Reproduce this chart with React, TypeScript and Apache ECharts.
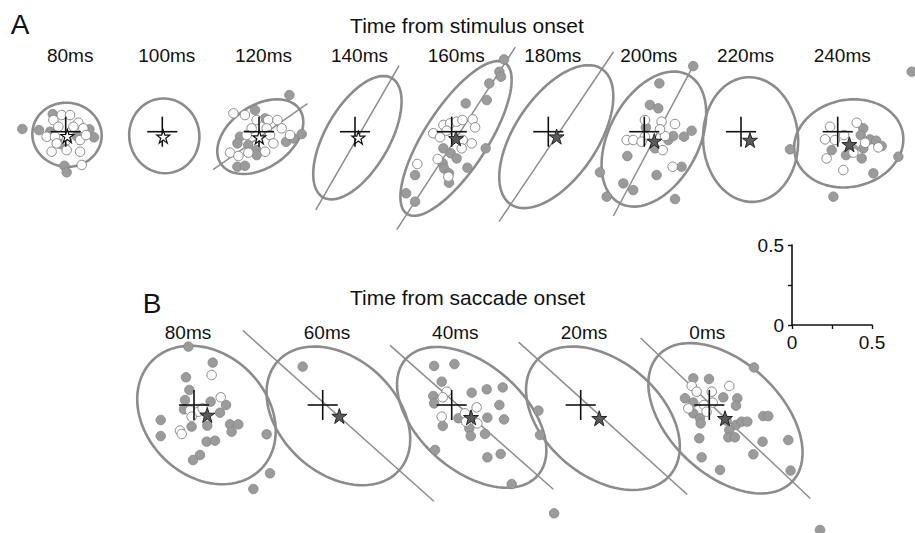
import React, { useEffect, useRef } from 'react';
import * as echarts from 'echarts';

// ---------- labels ----------
const stimLabels = ['80ms', '100ms', '120ms', '140ms', '160ms', '180ms', '200ms', '220ms', '240ms'];
const sacLabels = ['80ms', '60ms', '40ms', '20ms', '0ms'];
const scaleTicks = [0, 0.25, 0.5];

// ---------- panel A (time from stimulus onset) ----------
// ellipse: [cx, cy, semiMajor, semiMinor, angleDeg]
const stimEllipses = [
  [0.008, -0.019, 0.217, 0.2, -8],
  [0.0125, -0.026, 0.234, 0.219, 100],
  [0.008, -0.031, 0.299, 0.193, 35],
  [0.015, -0.0375, 0.43, 0.2, 60],
  [0.027, -0.042, 0.5625, 0.196, 57],
  [0.05, -0.031, 0.51, 0.258, 56],
  [0.06, -0.046, 0.454, 0.281, 62],
  [0.06, -0.049, 0.39, 0.297, 93],
  [0.069, -0.073, 0.344, 0.272, 12],
];
// regression line: [cx, cy, halfLength, angleDeg] or null
const stimLines = [
  null,
  null,
  [0.008, -0.031, 0.36, 35],
  [0.015, -0.0375, 0.52, 60],
  [0.027, -0.042, 0.68, 57],
  [0.05, -0.031, 0.64, 56],
  [0.06, -0.05, 0.54, 62],
  null,
  null,
];
const stimStars = [
  [0.01, -0.027], [0.006, -0.031], [0.002, -0.035], [0.021, -0.0375], [0.027, -0.042],
  [0.052, -0.031], [0.0625, -0.058], [0.056, -0.052], [0.073, -0.079],
];
const stimStarDark = [false, false, false, false, true, true, true, true, true];

const a80Filled = [[-0.271, 0.017], [-0.167, 0.01], [-0.081, 0.11], [-0.098, 0], [-0.031, -0.077], [0.069, -0.027], [0.148, 0.015], [0.177, -0.035], [-0.008, -0.213], [0.006, -0.254]];
const a80Open = [[-0.077, 0.073], [-0.025, 0.104], [0.027, 0.104], [0.079, 0.056], [-0.046, 0.031], [0.048, 0.031], [0.11, 0.021], [-0.119, -0.031], [-0.067, -0.031], [0.006, -0.052], [0.09, -0.052], [-0.088, -0.125], [0.006, -0.115], [0.09, -0.125], [0.1, -0.208], [-0.056, -0.073], [0.127, -0.021]];
const a120Filled = [[0.19, 0.229], [-0.025, 0.135], [0.038, 0.083], [-0.119, -0.031], [-0.135, -0.073], [-0.067, -0.083], [-0.015, -0.115], [-0.015, -0.146], [-0.135, -0.219], [-0.088, -0.213], [0.169, -0.063], [0.215, -0.042], [0.267, -0.015]];
const a120Open = [[-0.16, 0.115], [-0.088, 0.104], [-0.015, 0.073], [0.058, 0.073], [0.115, 0.073], [-0.046, 0.021], [0.048, 0.021], [-0.077, -0.021], [0.069, -0.021], [0.194, -0.021], [-0.181, -0.131], [-0.129, -0.152], [-0.067, -0.131], [0.038, -0.125], [0.09, -0.073], [0.142, 0.021]];
const a160Filled = [[0.327, 0.452], [0.298, 0.375], [0.308, 0.344], [0.235, 0.302], [0.219, 0.198], [0.0875, 0.177], [-0.052, -0.104], [-0.006, -0.135], [0.031, -0.167], [-0.056, -0.198], [-0.048, -0.229], [-0.017, -0.26], [-0.017, -0.319], [0.098, -0.225], [0.2125, -0.104], [-0.229, -0.271], [-0.285, -0.385], [-0.229, -0.4375]];
const a160Open = [[-0.052, 0.042], [-0.01, 0.052], [0.031, 0.0625], [0.067, 0.073], [0.131, 0.077], [0.146, 0.027], [-0.031, 0.006], [-0.115, -0.01], [-0.073, -0.035], [0.069, -0.052], [0.0625, -0.104], [0.125, -0.073], [-0.0875, -0.171], [-0.215, -0.202], [-0.021, -0.281]];
const a200Filled = [[0.306, 0.41], [0.094, 0.302], [0.035, 0.167], [0.0875, 0.146], [0.15, -0.052], [0.181, -0.027], [0.248, -0.031], [0.296, 0.006], [0.067, -0.104], [-0.106, -0.152], [-0.277, -0.254], [-0.131, -0.323], [-0.069, -0.365], [0.077, -0.271], [0.233, -0.219], [-0.235, -0.406], [0.192, -0.421], [0.01, 0.027]];
const a200Open = [[0.004, 0.073], [0.108, 0.0625], [0.192, 0.048], [-0.11, -0.052], [-0.069, -0.052], [0.004, -0.031], [0.129, -0.027], [0.098, 0.015], [0.115, -0.115], [0.177, -0.219], [-0.017, -0.0625]];
const a240Filled = [[0.16, 0.021], [0.144, -0.021], [-0.0375, -0.115], [0.052, -0.146], [0.098, -0.11], [0.15, -0.167], [0.16, -0.104], [0.202, -0.048], [0.24, -0.056], [0.275, -0.09], [0.379, -0.156], [0.223, -0.26], [-0.027, -0.406], [-0.298, -0.11], [0.4625, 0.375]];
const a240Open = [[-0.048, 0.031], [0.119, 0.056], [-0.079, -0.048], [-0.017, -0.052], [0.04, -0.021], [0.098, -0.131], [0.171, -0.069], [0.254, -0.098], [-0.069, -0.167], [0.035, -0.24]];

const stimFilled = [a80Filled, [], a120Filled, [], a160Filled, [], a200Filled, [], a240Filled];
const stimOpen = [a80Open, [], a120Open, [], a160Open, [], a200Open, [], a240Open];

// ---------- panel B (time from saccade onset) ----------
const sacEllipses = [
  [0.078, -0.0625, 0.48, 0.38, -45],
  [0.098, -0.068, 0.51, 0.36, -42],
  [0.125, -0.077, 0.55, 0.33, -41.4],
  [0.139, -0.083, 0.55, 0.36, -40],
  [0.101, -0.083, 0.575, 0.35, -43.4],
];
const sacLines = [
  null,
  [0.098, -0.068, 0.8, -41.8],
  [0.125, -0.077, 0.68, -41.4],
  [0.139, -0.083, 0.71, -42.1],
  [0.101, -0.083, 0.73, -43.4],
];
const sacStars = [[0.083, -0.0625], [0.104, -0.069], [0.121, -0.077], [0.116, -0.083], [0.098, -0.083]];

const b80Filled = [[-0.035, 0.365], [0.117, 0.265], [-0.05, 0.173], [-0.029, 0.094], [-0.056, 0.031], [-0.0625, -0.027], [0.104, 0.021], [0.2, 0], [0.1625, -0.048], [0.083, -0.129], [-0.015, -0.135], [-0.208, -0.094], [-0.208, -0.194], [0.225, -0.121], [0.277, -0.121], [0.235, -0.167], [0.079, -0.229], [0.131, -0.223], [0.0375, -0.3125], [-0.006, -0.344], [0.454, -0.183], [0.475, -0.427], [0.371, -0.525]];
const b80Open = [[0.11, 0.1875], [0.167, 0.048], [-0.025, -0.035], [0.027, -0.042], [-0.015, -0.073], [-0.0875, -0.16], [-0.077, -0.181], [0.054, -0.021]];
const b60Filled = [[-0.125, 0.24]];
const b40Filled = [[-0.11, 0.244], [0.017, 0.256], [-0.0625, 0.146], [0.125, 0.077], [0.219, 0.098], [0.319, 0.11], [-0.115, 0.056], [-0.11, 0.01], [0.298, 0], [0.327, -0.09], [0.223, -0.079], [0.042, -0.083], [-0.056, -0.131], [0.11, -0.146], [0.119, -0.194], [0.208, -0.181], [-0.104, -0.281], [0.223, -0.327], [0.306, -0.306], [0.375, -0.494], [0.542, -0.035], [0.552, -0.1875], [0.64, -0.677]];
const b40Open = [[-0.031, 0.083], [-0.056, 0.048], [0.156, -0.015], [-0.0625, -0.073], [0.083, -0.052], [0.09, -0.104], [0.16, -0.115]];
const b0Filled = [[0.279, 0.235], [-0.1, 0.167], [-0.002, 0.1625], [0.0875, 0.048], [0.175, 0.042], [0.167, -0.004], [-0.152, 0.042], [-0.1, 0.015], [-0.1, -0.052], [-0.058, -0.083], [-0.054, -0.115], [0.108, -0.098], [0.167, -0.125], [0.202, -0.104], [0.2375, -0.104], [0.125, -0.156], [0.119, -0.202], [0.16, -0.202], [0.3375, -0.069], [0.369, -0.069], [-0.0625, -0.208], [0.333, -0.229], [0.494, -0.219], [0.275, -0.308], [-0.048, -0.327], [0.067, -0.406], [0.508, -0.41], [0.692, -0.781]];
const b0Open = [[-0.11, 0.119], [-0.079, 0.083], [0.015, 0.083], [0.125, 0.119], [-0.131, -0.021], [-0.033, 0], [0.021, 0.015], [-0.017, -0.042]];

const sacFilled = [b80Filled, b60Filled, b40Filled, [], b0Filled];
const sacOpen = [b80Open, [], b40Open, [], b0Open];

// ---------- layout (pixels) ----------
const STIM_X = [65.7, 162.3, 259, 355, 451.7, 548.3, 644.3, 741, 837.7];
const STIM_Y = 131.7;
const SAC_X = [194, 322.7, 451.7, 580.7, 709.3];
const SAC_Y = 405;
const SAC_TITLE_X = [188, 327, 455.3, 584, 707.3];
const HALF = 40; // px half-size of each panel grid (0.25 data units)
const CROSS_ARM = 0.094;

const FONT = '"Liberation Sans", Arial, Helvetica, sans-serif';
const GREY = '#8c8c8c';
const STAR = 'path://M50,2 L61.8,37.6 L99,37.6 L69,59.5 L80.4,95 L50,73 L19.6,95 L31,59.5 L1,37.6 L38.2,37.6 Z';

function ellipseRender(params: any, api: any) {
  const cx = api.value(0), cy = api.value(1), a = api.value(2), b = api.value(3);
  const ang = (api.value(4) * Math.PI) / 180;
  const pts: number[][] = [];
  for (let i = 0; i < 96; i++) {
    const t = (i / 96) * Math.PI * 2;
    const x = cx + a * Math.cos(t) * Math.cos(ang) - b * Math.sin(t) * Math.sin(ang);
    const y = cy + a * Math.cos(t) * Math.sin(ang) + b * Math.sin(t) * Math.cos(ang);
    pts.push(api.coord([x, y]));
  }
  return { type: 'polygon', shape: { points: pts }, style: { fill: 'none', stroke: GREY, lineWidth: 2.6 } };
}

function lineRender(params: any, api: any) {
  const cx = api.value(0), cy = api.value(1), h = api.value(2);
  const ang = (api.value(3) * Math.PI) / 180;
  const p1 = api.coord([cx - h * Math.cos(ang), cy - h * Math.sin(ang)]);
  const p2 = api.coord([cx + h * Math.cos(ang), cy + h * Math.sin(ang)]);
  return { type: 'line', shape: { x1: p1[0], y1: p1[1], x2: p2[0], y2: p2[1] }, style: { stroke: GREY, lineWidth: 1.5 } };
}

function crossRender(params: any, api: any) {
  const x = api.value(0), y = api.value(1);
  const l = api.coord([x - CROSS_ARM, y]);
  const r = api.coord([x + CROSS_ARM, y]);
  const t = api.coord([x, y + CROSS_ARM]);
  const b = api.coord([x, y - CROSS_ARM]);
  return {
    type: 'group',
    children: [
      { type: 'line', shape: { x1: l[0], y1: l[1], x2: r[0], y2: r[1] }, style: { stroke: '#111', lineWidth: 1.6 } },
      { type: 'line', shape: { x1: t[0], y1: t[1], x2: b[0], y2: b[1] }, style: { stroke: '#111', lineWidth: 1.6 } },
    ],
  };
}

function panelSeries(idx: number, ellipse: number[], line: number[] | null, filled: number[][], open: number[][], star: number[], dark: boolean) {
  const base = { xAxisIndex: idx, yAxisIndex: idx, silent: true };
  const out: any[] = [
    { ...base, type: 'custom', renderItem: ellipseRender, data: [ellipse], encode: { x: 0, y: 1 }, clip: false, z: 1 },
  ];
  if (line) out.push({ ...base, type: 'custom', renderItem: lineRender, data: [line], encode: { x: 0, y: 1 }, clip: false, z: 2 });
  if (filled.length)
    out.push({ ...base, type: 'scatter', data: filled, symbol: 'circle', symbolSize: 9.5, clip: false, z: 3,
      itemStyle: { color: '#9b9b9b', borderColor: '#858585', borderWidth: 0.8, opacity: 1 } });
  if (open.length)
    out.push({ ...base, type: 'scatter', data: open, symbol: 'circle', symbolSize: 9.5, clip: false, z: 3,
      itemStyle: { color: '#ffffff', borderColor: '#8a8a8a', borderWidth: 1, opacity: 1 } });
  out.push({ ...base, type: 'custom', renderItem: crossRender, data: [[0, 0]], encode: { x: 0, y: 1 }, clip: false, z: 4 });
  out.push({ ...base, type: 'scatter', data: [star], symbol: STAR, symbolSize: dark ? 15 : 13, clip: false, z: 5,
    itemStyle: dark ? { color: '#5a5a5a', borderColor: '#222', borderWidth: 1, opacity: 1 } : { color: '#fff', borderColor: '#111', borderWidth: 1.2, opacity: 1 } });
  return out;
}

export default function App() {
  const ref = useRef<HTMLDivElement>(null);
  useEffect(() => {
    if (!ref.current) return;
    const chart = echarts.init(ref.current, undefined, { renderer: 'svg' });
    const centers: number[][] = [
      ...STIM_X.map((x) => [x, STIM_Y]),
      ...SAC_X.map((x) => [x, SAC_Y]),
    ];
    const grids: any[] = centers.map(([x, y]) => ({ left: x - HALF, top: y - HALF, width: HALF * 2, height: HALF * 2 }));
    const xAxes: any[] = centers.map((_, i) => ({ type: 'value', gridIndex: i, min: -0.25, max: 0.25, show: false }));
    const yAxes: any[] = centers.map((_, i) => ({ type: 'value', gridIndex: i, min: -0.25, max: 0.25, show: false }));
    // scale-bar axes
    const sb = centers.length;
    grids.push({ left: 792, top: 245, width: 80, height: 80 });
    const axisCommon = {
      type: 'value', gridIndex: sb, min: scaleTicks[0], max: scaleTicks[scaleTicks.length - 1], interval: scaleTicks[1] - scaleTicks[0],
      axisLine: { show: true, lineStyle: { color: '#111', width: 1.6 } },
      axisTick: { show: true, length: 4, lineStyle: { color: '#111', width: 1.4 } },
      splitLine: { show: false },
      axisLabel: { fontFamily: FONT, fontSize: 19, color: '#111', margin: 8, formatter: (v: number) => (v === 0.25 ? '' : String(v)) },
    };
    xAxes.push({ ...axisCommon });
    yAxes.push({ ...axisCommon });

    let series: any[] = [];
    stimLabels.forEach((_, i) => {
      series = series.concat(panelSeries(i, stimEllipses[i], stimLines[i], stimFilled[i], stimOpen[i], stimStars[i], stimStarDark[i]));
    });
    sacLabels.forEach((_, i) => {
      series = series.concat(panelSeries(STIM_X.length + i, sacEllipses[i], sacLines[i], sacFilled[i], sacOpen[i], sacStars[i], true));
    });

    const txt = (text: string, x: number, y: number, size: number) => ({
      type: 'text', x, y, silent: true,
      style: { text, fontFamily: FONT, fontSize: size, fill: '#111', align: 'center', verticalAlign: 'middle' },
    });
    const graphics: any[] = [
      txt('A', 20, 24, 28),
      txt('Time from stimulus onset', 467, 25.5, 21),
      ...stimLabels.map((l, i) => txt(l, STIM_X[i] + 4.5, 55, 19)),
      txt('B', 152, 303, 28),
      txt('Time from saccade onset', 467.5, 297, 21),
      ...sacLabels.map((l, i) => txt(l, SAC_TITLE_X[i], 332, 19)),
    ];

    chart.setOption({
      animation: false,
      backgroundColor: '#ffffff',
      grid: grids,
      xAxis: xAxes,
      yAxis: yAxes,
      series,
      graphic: graphics,
    });
    return () => chart.dispose();
  }, []);
  return <div ref={ref} style={{ width: 915, height: 533, position: 'absolute', left: 0, top: 0 }} />;
}
